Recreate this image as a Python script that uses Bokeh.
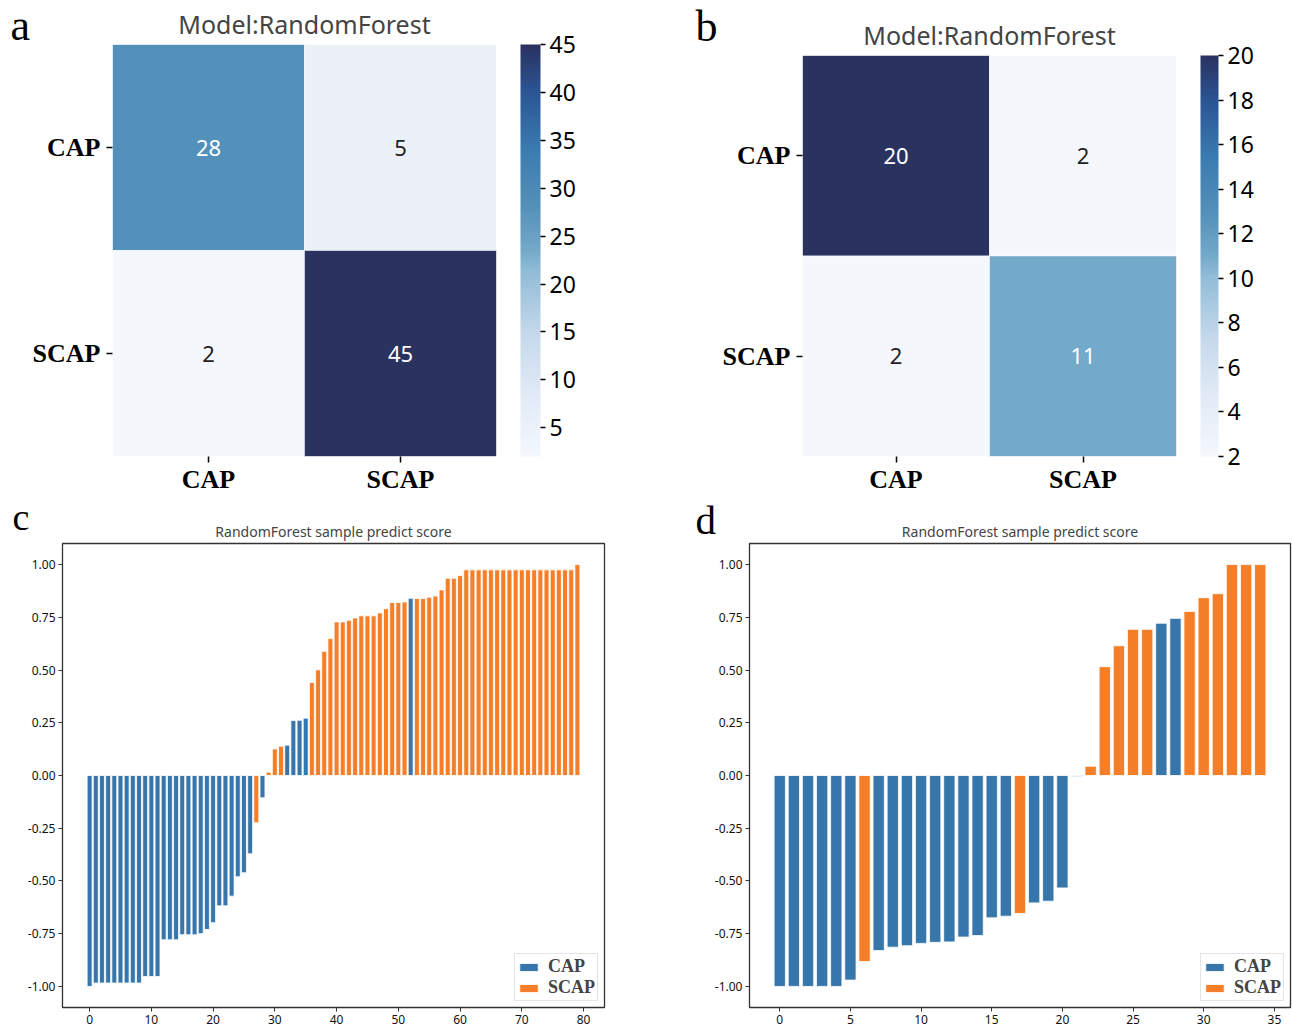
import numpy as np
from bokeh.plotting import figure
from bokeh.models import (ColumnDataSource, LinearColorMapper, ColorBar, FixedTicker,
                          Label, Range1d, FactorRange, PrintfTickFormatter, Spacer)
from bokeh.core.properties import value
from bokeh.layouts import column, row
from bokeh.embed import file_html
from bokeh.resources import INLINE
from bokeh.transform import transform

# ---------------- data ----------------
classes = ["CAP", "SCAP"]
cm_a = [[28, 5], [2, 45]]
cm_b = [[20, 2], [2, 11]]
cbar_ticks_a = [5, 10, 15, 20, 25, 30, 35, 40, 45]
cbar_ticks_b = [2, 4, 6, 8, 10, 12, 14, 16, 18, 20]

scores_c = [-1.00, -0.984, -0.984, -0.984, -0.984, -0.984, -0.984, -0.984, -0.984,
            -0.953, -0.953, -0.953, -0.779, -0.779, -0.779, -0.755, -0.755, -0.755,
            -0.75, -0.73, -0.698, -0.618, -0.618, -0.572, -0.48, -0.461, -0.371,
            -0.224, -0.106, 0.016, 0.126, 0.139, 0.144, 0.261, 0.262, 0.272,
            0.441, 0.501, 0.589, 0.649, 0.728, 0.728, 0.736, 0.747, 0.757, 0.757,
            0.757, 0.771, 0.791, 0.82, 0.82, 0.823, 0.84, 0.839, 0.839, 0.845,
            0.851, 0.88, 0.935, 0.935, 0.948, 0.975, 0.975, 0.975, 0.975, 0.975,
            0.975, 0.975, 0.975, 0.975, 0.975, 0.975, 0.975, 0.975, 0.975, 0.975,
            0.975, 0.975, 0.975, 1.00]
labels_c = (["CAP"] * 27 + ["SCAP"] + ["CAP"] + ["SCAP"] * 3 + ["CAP"] * 4 +
            ["SCAP"] * 16 + ["CAP"] + ["SCAP"] * 27)

scores_d = [-1.00, -1.00, -1.00, -1.00, -1.00, -0.97, -0.882, -0.83, -0.814, -0.807,
            -0.796, -0.791, -0.789, -0.766, -0.759, -0.675, -0.667, -0.654, -0.604,
            -0.596, -0.533, -0.003, 0.044, 0.516, 0.615, 0.693, 0.693, 0.722, 0.745,
            0.778, 0.843, 0.862, 1.00, 1.00, 1.00]
labels_d = (["CAP"] * 6 + ["SCAP"] + ["CAP"] * 10 + ["SCAP"] + ["CAP"] * 4 +
            ["SCAP"] * 5 + ["CAP"] * 2 + ["SCAP"] * 6)

x_ticks_c = [0, 10, 20, 30, 40, 50, 60, 70, 80]
x_ticks_d = [0, 5, 10, 15, 20, 25, 30, 35]
y_ticks = [-1.0, -0.75, -0.5, -0.25, 0.0, 0.25, 0.5, 0.75, 1.0]

# ---------------- styles ----------------
BAR_COLORS = {"CAP": "#3776ab", "SCAP": "#f57e28"}
SANS = "Noto Sans"
SERIF = "Liberation Serif"

anchors_t = [0.0, 0.15, 0.3, 0.45, 0.5, 0.6, 0.75, 0.88, 1.0]
anchors_c = [(244, 247, 252), (226, 234, 246), (196, 216, 234), (144, 188, 214),
             (116, 169, 201), (85, 146, 186), (58, 123, 176), (43, 87, 151), (42, 50, 96)]
tt = np.linspace(0, 1, 256)
arr = np.array(anchors_c, dtype=float)
palette = ["#%02x%02x%02x" % tuple(int(round(np.interp(t, anchors_t, arr[:, k]))) for k in range(3))
           for t in tt]


def add_letter(p, text, x, y, size, side="left"):
    p.add_layout(Label(x=x, y=y, x_units="canvas", y_units="canvas", text=text,
                       text_font=SERIF, text_font_size=size, text_color="black",
                       text_baseline="alphabetic", text_align="left"), side)


def heatmap(cm, low, high, ticks, width, height, left, right, top, bottom, frame_h, bar_w):
    xs, ys, vals, tcols, tx = [], [], [], [], []
    for i, true in enumerate(classes):
        for j, pred in enumerate(classes):
            v = cm[i][j]
            xs.append(pred)
            ys.append(true)
            vals.append(v)
            tx.append(str(v))
            tcols.append("white" if (v - low) / (high - low) > 0.45 else "#222222")
    src = ColumnDataSource(dict(x=xs, y=ys, v=vals, t=tx, c=tcols))
    mapper = LinearColorMapper(palette=palette, low=low, high=high)
    p = figure(width=width, height=height, x_range=FactorRange(*classes),
               y_range=FactorRange(*classes[::-1]), output_backend="svg",
               toolbar_location=None, min_border_left=left, min_border_right=right,
               min_border_top=top, min_border_bottom=bottom)
    p.rect(x="x", y="y", width=1, height=1, source=src,
           fill_color=transform("v", mapper), line_color="white", line_alpha=0.5, line_width=1)
    p.text(x="x", y="y", text="t", source=src, text_color="c", text_align="center",
           text_baseline="middle", text_font=value(SANS), text_font_size="22px")
    p.outline_line_color = None
    p.grid.visible = False
    for ax in (p.xaxis[0], p.yaxis[0]):
        ax.axis_line_color = None
        ax.major_tick_in = 0
        ax.major_tick_out = 6
        ax.major_tick_line_color = "black"
        ax.major_tick_line_width = 1.5
        ax.major_label_text_font = SERIF
        ax.major_label_text_font_style = "bold"
        ax.major_label_text_font_size = "26px"
        ax.major_label_text_color = "black"
    p.xaxis.major_label_standoff = 2
    p.yaxis.major_label_standoff = 6
    p.x_range.range_padding = 0
    p.y_range.range_padding = 0
    p.title.text = "Model:RandomForest"
    p.title.align = "center"
    p.title.text_font = SANS
    p.title.text_font_style = "normal"
    p.title.text_font_size = "25px"
    p.title.standoff = 7
    cb = ColorBar(color_mapper=mapper, ticker=FixedTicker(ticks=ticks), width=bar_w,
                  height=frame_h, padding=0, margin=0, location=(24, 0),
                  major_label_text_font=SANS, major_label_text_font_size="23px",
                  major_label_text_color="black", major_tick_in=0, major_tick_out=5,
                  major_tick_line_color="black", major_tick_line_width=1.5,
                  label_standoff=4, bar_line_color=None, border_line_color=None,
                  background_fill_alpha=0, minor_tick_line_color=None)
    p.add_layout(cb, "right")
    return p


def scorebar(scores, labels, xticks, width, height, left, right, top, bottom):
    n = len(scores)
    span = (n - 1) + 0.8
    p = figure(width=width, height=height, output_backend="svg", toolbar_location=None,
               x_range=Range1d(-0.4 - 0.05 * span, n - 0.6 + 0.05 * span),
               y_range=Range1d(-1.1, 1.1),
               min_border_left=left, min_border_right=right, min_border_top=top,
               min_border_bottom=bottom)
    for cls in classes:
        idx = [i for i in range(n) if labels[i] == cls]
        src = ColumnDataSource(dict(x=idx, top=[scores[i] for i in idx]))
        p.vbar(x="x", top="top", bottom=0, width=0.8, source=src,
               fill_color=BAR_COLORS[cls], line_color="white", line_width=0.8,
               legend_label=cls)
    p.grid.visible = False
    p.outline_line_color = "#333333"
    p.outline_line_width = 1.3
    p.xaxis.ticker = FixedTicker(ticks=xticks)
    p.yaxis.ticker = FixedTicker(ticks=y_ticks)
    p.yaxis.formatter = PrintfTickFormatter(format="%.2f")
    for ax in (p.xaxis[0], p.yaxis[0]):
        ax.axis_line_color = None
        ax.major_tick_in = 0
        ax.major_tick_out = 4
        ax.major_tick_line_color = "#333333"
        ax.minor_tick_line_color = None
        ax.major_label_text_font = SANS
        ax.major_label_text_font_size = "12px"
        ax.major_label_text_color = "#111111"
        ax.major_label_standoff = 3
    p.title.text = "RandomForest sample predict score"
    p.title.align = "center"
    p.title.text_font = SANS
    p.title.text_font_style = "normal"
    p.title.text_font_size = "14px"
    p.title.standoff = 6
    lg = p.legend[0]
    lg.location = "bottom_right"
    lg.label_text_font = SERIF
    lg.label_text_font_style = "bold"
    lg.label_text_font_size = "18px"
    lg.glyph_width = 23
    lg.glyph_height = 10
    lg.label_height = 16
    lg.spacing = 0
    lg.padding = 2
    lg.margin = 6
    lg.label_standoff = 8
    lg.border_line_color = "#cccccc"
    return p


pa = heatmap(cm_a, 2, 45, cbar_ticks_a, 718, 496, 112, 222, 44, 40, 412, 20)
pb = heatmap(cm_b, 2, 20, cbar_ticks_b, 574, 485, 84, 116, 44, 40, 401, 18)
pc = scorebar(scores_c, labels_c, x_ticks_c, 690, 536, 62, 86, 47, 25)
pd = scorebar(scores_d, labels_d, x_ticks_d, 602, 536, 59, 2, 47, 24)

add_letter(pa, "a", 10, 25, "44px", "left")
add_letter(pa, "b", 695, 26, "44px", "right")
add_letter(pc, "c", 12, 20, "38px", "left")
add_letter(pd, "d", 5, 23, "41px", "left")

top_row = row(pa, column(Spacer(width=574, height=11), pb, spacing=0), spacing=0)
layout = column(top_row, row(pc, pd, spacing=0), spacing=0)
open("out.html", "w").write(file_html(layout, INLINE))
